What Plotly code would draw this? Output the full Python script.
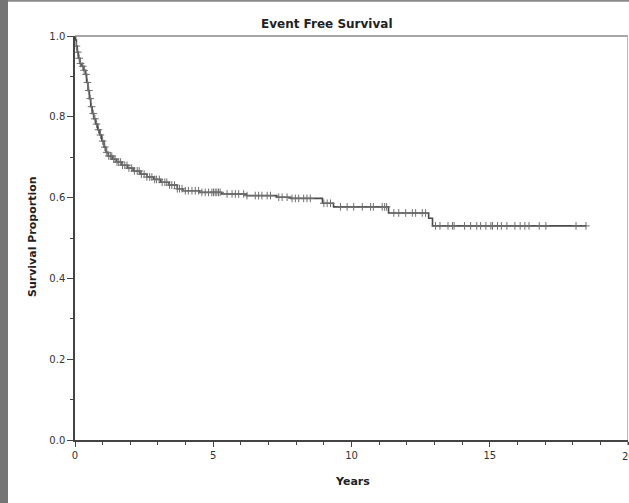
import numpy as np
import plotly.graph_objects as go

# Kaplan-Meier step values (years, survival proportion)
event_times = [0.0, 0.02, 0.05, 0.08, 0.12, 0.18, 0.25, 0.32, 0.38, 0.42, 0.47, 0.52, 0.57,
               0.62, 0.68, 0.75, 0.82, 0.90, 0.97, 1.05, 1.12, 1.20, 1.35, 1.50, 1.70, 1.90,
               2.10, 2.35, 2.60, 2.85, 3.10, 3.40, 3.70, 3.90, 4.50, 5.30, 6.20, 7.30, 7.80,
               8.95, 9.35, 11.34, 12.79, 12.93, 18.50]
survival = [1.0, 0.99, 0.975, 0.96, 0.945, 0.932, 0.925, 0.915, 0.905, 0.885, 0.865, 0.845, 0.825,
            0.808, 0.795, 0.782, 0.768, 0.755, 0.74, 0.725, 0.712, 0.703, 0.695, 0.688, 0.68, 0.673,
            0.666, 0.658, 0.651, 0.645, 0.638, 0.631, 0.622, 0.617, 0.613, 0.609, 0.605, 0.601, 0.598,
            0.586, 0.577, 0.562, 0.549, 0.530, 0.530]

# censoring times (years)
censor_times = [0.05, 0.10, 0.15, 0.20, 0.28, 0.33, 0.40, 0.45, 0.50, 0.55, 0.60, 0.66, 0.72,
                0.78, 0.85, 0.92, 1.00, 1.08, 1.15, 1.22, 1.28, 1.33, 1.40, 1.45, 1.52, 1.58,
                1.65, 1.72, 1.80, 1.88, 1.95, 2.05, 2.15, 2.25, 2.32, 2.40, 2.50, 2.60, 2.70,
                2.78, 2.88, 2.95, 3.05, 3.15, 3.25, 3.32, 3.42, 3.50, 3.60, 3.70, 3.78,
                3.87, 3.99, 4.10, 4.23, 4.35, 4.47, 4.59, 4.71, 4.83, 4.95, 5.01, 5.07, 5.13,
                5.19, 5.25, 5.50, 5.68, 5.80, 5.92, 6.10, 6.22, 6.52, 6.64, 6.76, 6.95, 7.07,
                7.37, 7.49, 7.67, 7.85, 7.97, 8.09, 8.27, 8.39, 8.51, 9.00, 9.12, 9.24, 9.60,
                9.84, 10.08, 10.39, 10.69, 10.79, 11.11, 11.20, 11.27, 11.53, 11.71, 11.96,
                12.20, 12.32, 12.56, 12.68, 13.04, 13.20, 13.49, 13.65, 13.71, 14.09, 14.31,
                14.53, 14.67, 14.86, 15.04, 15.10, 15.28, 15.42, 15.62, 15.91, 16.10, 16.27,
                16.42, 16.79, 17.03, 18.12, 18.48]

x_ticks = [0, 5, 10, 15, 20]
x_ticklabels = ["0", "5", "10", "15", "20"]
y_ticks = [0.0, 0.2, 0.4, 0.6, 0.8, 1.0]
y_ticklabels = ["0.0", "0.2", "0.4", "0.6", "0.8", "1.0"]

et = np.array(event_times)
sv = np.array(survival)
idx = np.searchsorted(et, np.array(censor_times), side="right") - 1
censor_surv = sv[idx]

W, H = 629, 503
L, R, T, B = 75, 1, 36, 63
pw, ph = W - L - R, H - T - B

def px(xp):
    return (xp - L) / pw

def py(yp):
    return (H - B - yp) / ph

fig = go.Figure()
fig.add_trace(go.Scatter(x=event_times, y=survival, mode="lines", line_shape="hv",
                         line=dict(color="#4a4a4a", width=1.6), hoverinfo="skip",
                         showlegend=False))
fig.add_trace(go.Scatter(x=censor_times, y=censor_surv, mode="markers",
                         marker=dict(symbol="cross-thin", size=5.5,
                                     line=dict(color="#6f6f6f", width=1)),
                         showlegend=False))

font_family = "DejaVu Sans"
fig.update_layout(
    width=W, height=H,
    margin=dict(l=L, r=R, t=T, b=B, pad=0),
    paper_bgcolor="white", plot_bgcolor="white",
    showlegend=False,
    font=dict(family=font_family, size=10, color="#333333"),
    xaxis=dict(range=[0, 20], tickvals=x_ticks[:-1], ticktext=x_ticklabels[:-1],
               showgrid=False, zeroline=False, showline=True, linecolor="#444444",
               linewidth=1.5, ticks="outside", ticklen=5, tickcolor="#444444",
               minor=dict(dtick=1, ticks="outside", ticklen=3, tickcolor="#444444",
                          showgrid=False),
               tickfont=dict(size=10, color="#333333")),
    yaxis=dict(range=[0, 1.0], tickvals=y_ticks, ticktext=y_ticklabels,
               showgrid=False, zeroline=False, showline=True, linecolor="#444444",
               linewidth=1.5, ticks="outside", ticklen=6, tickcolor="#444444",
               minor=dict(dtick=0.1, ticks="outside", ticklen=3, tickcolor="#444444",
                          showgrid=False),
               tickfont=dict(size=10, color="#333333")),
    shapes=[
        # left dark strip
        dict(type="rect", xref="paper", yref="paper", x0=px(-2), x1=px(8),
             y0=py(H + 2), y1=py(-2), fillcolor="#757575", line=dict(width=0), layer="below"),
        # top border line of the frame
        dict(type="line", xref="paper", yref="paper", x0=px(8), x1=px(W + 2),
             y0=py(0.8), y1=py(0.8), line=dict(color="#8a8a8a", width=2)),
        # top of plot area
        dict(type="line", xref="paper", yref="paper", x0=0, x1=1, y0=1, y1=1,
             line=dict(color="#8a8a8a", width=1.5)),
        # right of plot area
        dict(type="line", xref="paper", yref="paper", x0=px(627.5), x1=px(627.5), y0=0, y1=1,
             line=dict(color="#b8b8b8", width=1)),
        # major tick at 20
        dict(type="line", xref="x", yref="paper", x0=x_ticks[-1], x1=x_ticks[-1],
             y0=0, y1=py(445), line=dict(color="#444444", width=1)),
    ],
    annotations=[
        dict(text=x_ticklabels[-1], xref="x", yref="paper",
             x=x_ticks[-1], y=py(456), xanchor="center", yanchor="middle", showarrow=False,
             font=dict(family=font_family, size=10, color="#333333")),
        dict(text="<b>Event Free Survival</b>", xref="paper", yref="paper",
             x=px(327), y=py(24), xanchor="center", yanchor="middle", showarrow=False,
             font=dict(family=font_family, size=12, color="#222222")),
        dict(text="<b>Years</b>", xref="paper", yref="paper",
             x=px(352), y=py(481), xanchor="center", yanchor="middle", showarrow=False,
             font=dict(family=font_family, size=11, color="#222222")),
        dict(text="<b>Survival Proportion</b>", xref="paper", yref="paper",
             x=px(32), y=py(237), xanchor="center", yanchor="middle", showarrow=False,
             textangle=-90, font=dict(family=font_family, size=11, color="#222222")),
    ],
)

fig.write_html("out.html")
